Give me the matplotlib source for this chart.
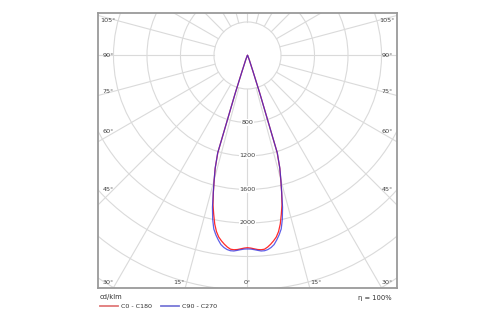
import numpy as np
import matplotlib
matplotlib.use("Agg")
import matplotlib.pyplot as plt
from matplotlib.patches import Circle
from matplotlib.lines import Line2D

# luminous intensity distribution, cd/klm, gamma in degrees (symmetric)
gamma = [0, 1, 2, 3, 4, 5, 6, 7, 8, 9, 10, 11, 12, 13, 14, 15, 16, 17, 18,
         19, 20, 22, 25, 30, 40, 90]
c0_c180 = [2295, 2300, 2310, 2320, 2325, 2322, 2300, 2270, 2235, 2195, 2135,
           2050, 1940, 1830, 1685, 1535, 1400, 1210, 480, 200, 110, 60, 25,
           8, 0, 0]
c90_c270 = [2310, 2312, 2320, 2330, 2340, 2340, 2330, 2310, 2280, 2230, 2175,
            2110, 2000, 1860, 1690, 1540, 1400, 1220, 480, 200, 110, 60, 25,
            8, 0, 0]

ring_values = [400, 800, 1200, 1600, 2000, 2400, 2800, 3200, 3600]
ring_labels = [800, 1200, 1600, 2000]
eta_text = "η = 100%"

plt.rcParams['font.family'] = ['DejaVu Sans']
FS = 4.6
TXT = '#404040'
GRID = '#dadada'

fig = plt.figure(figsize=(5, 3.25), dpi=100)
ax = fig.add_axes([98 / 500, 37 / 325, 299 / 500, 275 / 325])
ax.set_xlim(-1785, 1785)
ax.set_ylim(-2776, 507)
ax.set_aspect('equal')
ax.set_xticks([])
ax.set_yticks([])
for s in ax.spines.values():
    s.set_color('#9a9a9a')
    s.set_linewidth(1.3)

# polar grid
for r in ring_values:
    ax.add_patch(Circle((0, 0), r, fill=False, ec=GRID, lw=0.8, zorder=1))
for a in range(0, 360, 15):
    t = np.radians(a)
    ax.plot([400 * np.sin(t), 6000 * np.sin(t)],
            [-400 * np.cos(t), -6000 * np.cos(t)],
            color=GRID, lw=0.8, zorder=1)


def curve(vals):
    g = np.radians(np.array(gamma, float))
    v = np.array(vals, float)
    g = np.concatenate([-g[::-1], g[1:]])
    v = np.concatenate([v[::-1], v[1:]])
    return v * np.sin(g), -v * np.cos(g)


x, y = curve(c0_c180)
ax.plot(x, y, color='#ff2a2a', lw=0.9, zorder=3)
x, y = curve(c90_c270)
ax.plot(x, y, color='#2a2ae0', lw=0.9, alpha=0.75, zorder=4)

# intensity labels on the 0 degree axis
for r in ring_labels:
    ax.text(0, -r, str(r), ha='center', va='center', fontsize=FS, color=TXT,
            zorder=2, bbox=dict(fc='white', ec='none', pad=0.6))

# angle labels along the frame
side = [(105, 412), (90, 0), (75, -436), (60, -913), (45, -1606), (30, -2716)]
for ang, yy in side:
    ax.text(-1666, yy, f"{ang}°", ha='center', va='center', fontsize=FS,
            color=TXT, zorder=2)
    ax.text(1666, yy, f"{ang}°", ha='center', va='center', fontsize=FS,
            color=TXT, zorder=2)
for xx, ang in [(-818, 15), (0, 0), (818, 15)]:
    ax.text(xx, -2716, f"{ang}°", ha='center', va='center', fontsize=FS,
            color=TXT, zorder=2)

# footer
fig.text(100 / 500, 1 - 297 / 325, "cd/klm", fontsize=FS + 0.3, color='#303030',
         ha='left', va='center')
fig.text(392 / 500, 1 - 298 / 325, eta_text, fontsize=FS + 0.3, color='#303030',
         ha='right', va='center')
yl = 1 - 306 / 325
fig.add_artist(Line2D([100 / 500, 118 / 500], [yl, yl], color='#e07878', lw=1.3))
fig.text(121 / 500, yl, "C0 - C180", fontsize=FS, color='#303030',
         ha='left', va='center')
fig.add_artist(Line2D([161 / 500, 179 / 500], [yl, yl], color='#7878d8', lw=1.3))
fig.text(182 / 500, yl, "C90 - C270", fontsize=FS, color='#303030',
         ha='left', va='center')

fig.savefig("out.png", dpi=100)
